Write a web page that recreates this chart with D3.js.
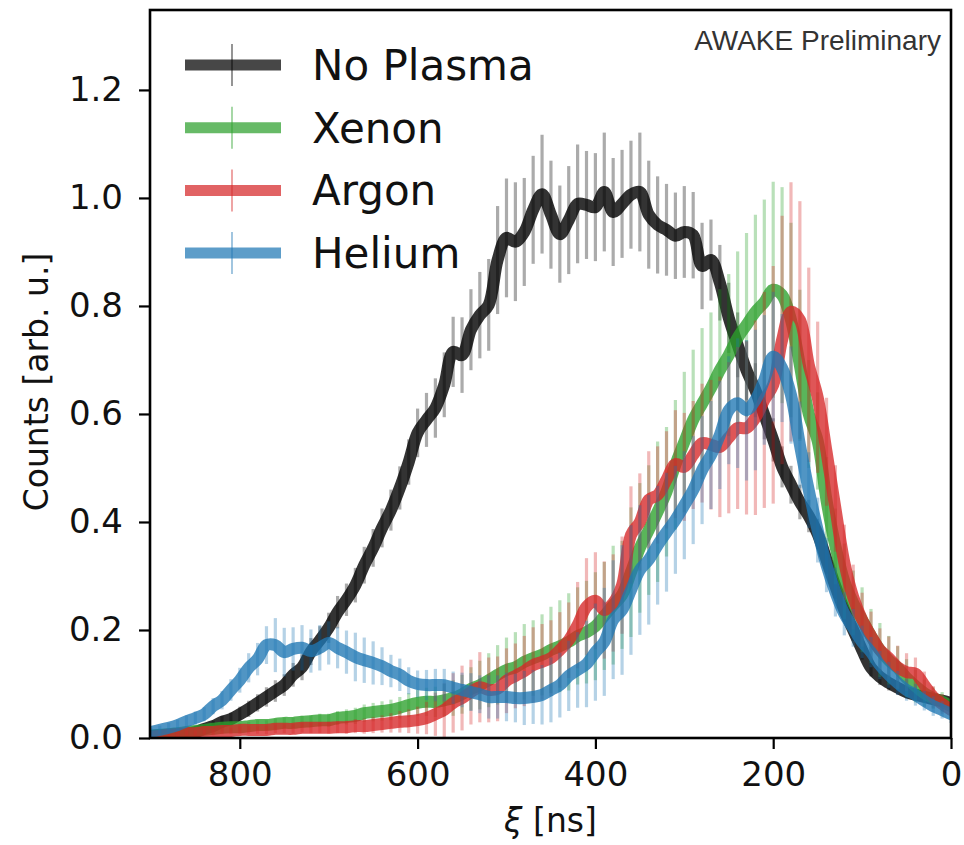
<!DOCTYPE html>
<html>
<head>
<meta charset="utf-8">
<script src="https://cdn.jsdelivr.net/npm/d3@7"></script>
<style>
  body { margin: 0; background: #fff; }
  text { font-family: "DejaVu Sans", sans-serif; }
</style>
</head>
<body>
<div id="chart-wrapper"></div>
<script>
const xiValues = [900, 890, 880, 870, 860, 850, 840, 830, 820, 810, 800,
  790, 780, 770, 760, 750, 740, 730, 720, 710, 700,
  690, 680, 670, 660, 650, 640, 630, 620, 610, 600,
  590, 580, 570, 560, 550, 540, 530, 520, 510, 500,
  490, 480, 470, 460, 450, 440, 430, 420, 410, 400,
  390, 380, 370, 360, 350, 340, 330, 320, 310, 300,
  290, 280, 270, 260, 250, 240, 230, 220, 210, 200,
  190, 180, 170, 160, 150, 140, 130, 120, 110, 100,
  90, 80, 70, 60, 50, 40, 30, 20, 10, 0]

const noPlasmaCounts = [0.004, 0.005, 0.006, 0.007, 0.008, 0.011, 0.017, 0.022, 0.030, 0.035, 0.044,
  0.054, 0.065, 0.076, 0.087, 0.098, 0.117, 0.131, 0.160, 0.181, 0.204,
  0.233, 0.256, 0.283, 0.320, 0.352, 0.389, 0.422, 0.463, 0.511, 0.565,
  0.589, 0.611, 0.654, 0.715, 0.709, 0.756, 0.783, 0.802, 0.885, 0.926,
  0.919, 0.937, 0.978, 1.007, 0.969, 0.933, 0.959, 0.989, 0.987, 0.983,
  1.011, 0.974, 0.989, 1.006, 1.011, 0.969, 0.950, 0.941, 0.930, 0.937,
  0.931, 0.874, 0.885, 0.843, 0.778, 0.728, 0.681, 0.644, 0.598, 0.552,
  0.502, 0.469, 0.437, 0.411, 0.378, 0.330, 0.281, 0.237, 0.200, 0.163,
  0.130, 0.113, 0.102, 0.093, 0.085, 0.080, 0.076, 0.072, 0.069, 0.065]
const noPlasmaErrors = [0.005, 0.005, 0.006, 0.006, 0.007, 0.008, 0.009, 0.010, 0.011, 0.012, 0.014,
  0.015, 0.016, 0.018, 0.020, 0.020, 0.022, 0.024, 0.025, 0.026, 0.028,
  0.030, 0.030, 0.032, 0.034, 0.035, 0.036, 0.038, 0.040, 0.042, 0.045,
  0.050, 0.055, 0.060, 0.065, 0.070, 0.075, 0.080, 0.085, 0.100, 0.110,
  0.110, 0.100, 0.100, 0.110, 0.100, 0.090, 0.100, 0.110, 0.100, 0.100,
  0.110, 0.100, 0.100, 0.100, 0.110, 0.100, 0.090, 0.085, 0.080, 0.085,
  0.080, 0.080, 0.075, 0.070, 0.065, 0.060, 0.055, 0.050, 0.045, 0.040,
  0.038, 0.035, 0.032, 0.030, 0.028, 0.026, 0.024, 0.022, 0.020, 0.018,
  0.016, 0.015, 0.014, 0.013, 0.012, 0.011, 0.010, 0.010, 0.009, 0.009]

const xenonCounts = [0.004, 0.006, 0.007, 0.009, 0.011, 0.013, 0.015, 0.017, 0.019, 0.020, 0.020,
  0.022, 0.024, 0.024, 0.026, 0.028, 0.028, 0.030, 0.031, 0.033, 0.033,
  0.037, 0.039, 0.041, 0.046, 0.048, 0.050, 0.052, 0.056, 0.061, 0.065,
  0.067, 0.067, 0.070, 0.074, 0.081, 0.091, 0.098, 0.107, 0.117, 0.126,
  0.131, 0.141, 0.148, 0.154, 0.163, 0.170, 0.178, 0.189, 0.196, 0.207,
  0.226, 0.246, 0.265, 0.307, 0.352, 0.385, 0.419, 0.456, 0.506, 0.548,
  0.589, 0.619, 0.648, 0.681, 0.709, 0.741, 0.765, 0.789, 0.807, 0.830,
  0.820, 0.774, 0.690, 0.600, 0.550, 0.440, 0.355, 0.290, 0.250, 0.219,
  0.189, 0.163, 0.144, 0.130, 0.111, 0.096, 0.083, 0.074, 0.067, 0.059]
const xenonErrors = [0.005, 0.005, 0.005, 0.006, 0.006, 0.006, 0.007, 0.007, 0.007, 0.008, 0.008,
  0.008, 0.009, 0.009, 0.010, 0.010, 0.010, 0.011, 0.011, 0.012, 0.012,
  0.013, 0.014, 0.015, 0.016, 0.017, 0.018, 0.019, 0.020, 0.022, 0.024,
  0.026, 0.028, 0.030, 0.033, 0.036, 0.040, 0.045, 0.050, 0.055, 0.060,
  0.065, 0.070, 0.070, 0.075, 0.080, 0.085, 0.090, 0.090, 0.095, 0.100,
  0.100, 0.110, 0.100, 0.120, 0.120, 0.120, 0.130, 0.120, 0.120, 0.130,
  0.130, 0.140, 0.140, 0.150, 0.150, 0.160, 0.170, 0.180, 0.190, 0.200,
  0.200, 0.180, 0.140, 0.100, 0.090, 0.080, 0.070, 0.070, 0.060, 0.060,
  0.050, 0.050, 0.045, 0.040, 0.035, 0.030, 0.025, 0.020, 0.018, 0.015]

const argonCounts = [0.002, 0.004, 0.006, 0.007, 0.009, 0.009, 0.011, 0.011, 0.013, 0.013, 0.015,
  0.015, 0.015, 0.015, 0.017, 0.017, 0.017, 0.019, 0.019, 0.019, 0.019,
  0.020, 0.020, 0.022, 0.022, 0.024, 0.026, 0.028, 0.030, 0.031, 0.033,
  0.037, 0.044, 0.052, 0.065, 0.074, 0.085, 0.094, 0.089, 0.091, 0.106,
  0.115, 0.124, 0.135, 0.141, 0.148, 0.163, 0.181, 0.209, 0.243, 0.254,
  0.237, 0.250, 0.283, 0.376, 0.400, 0.441, 0.450, 0.478, 0.507, 0.502,
  0.524, 0.546, 0.543, 0.539, 0.556, 0.574, 0.574, 0.593, 0.626, 0.654,
  0.737, 0.789, 0.774, 0.691, 0.631, 0.530, 0.425, 0.325, 0.261, 0.219,
  0.189, 0.163, 0.148, 0.131, 0.122, 0.119, 0.098, 0.076, 0.063, 0.052]
const argonErrors = [0.004, 0.004, 0.004, 0.005, 0.005, 0.005, 0.005, 0.006, 0.006, 0.006, 0.007,
  0.007, 0.007, 0.008, 0.008, 0.008, 0.009, 0.009, 0.010, 0.010, 0.011,
  0.011, 0.012, 0.013, 0.014, 0.015, 0.016, 0.018, 0.020, 0.022, 0.025,
  0.030, 0.040, 0.050, 0.055, 0.060, 0.060, 0.065, 0.060, 0.060, 0.060,
  0.060, 0.065, 0.070, 0.070, 0.070, 0.070, 0.070, 0.080, 0.090, 0.090,
  0.090, 0.090, 0.090, 0.090, 0.090, 0.090, 0.090, 0.090, 0.100, 0.100,
  0.100, 0.110, 0.120, 0.130, 0.140, 0.150, 0.160, 0.180, 0.200, 0.220,
  0.230, 0.240, 0.220, 0.180, 0.140, 0.100, 0.080, 0.070, 0.060, 0.050,
  0.045, 0.040, 0.040, 0.040, 0.035, 0.030, 0.025, 0.020, 0.018, 0.015]

const heliumCounts = [0.011, 0.015, 0.019, 0.024, 0.031, 0.037, 0.044, 0.059, 0.070, 0.089, 0.107,
  0.130, 0.146, 0.172, 0.172, 0.159, 0.165, 0.167, 0.161, 0.167, 0.176,
  0.167, 0.159, 0.150, 0.144, 0.139, 0.133, 0.124, 0.117, 0.106, 0.100,
  0.098, 0.098, 0.098, 0.093, 0.089, 0.085, 0.081, 0.076, 0.076, 0.076,
  0.074, 0.074, 0.076, 0.080, 0.089, 0.098, 0.115, 0.126, 0.137, 0.159,
  0.178, 0.219, 0.237, 0.274, 0.311, 0.330, 0.357, 0.381, 0.404, 0.431,
  0.459, 0.496, 0.524, 0.561, 0.607, 0.620, 0.607, 0.626, 0.663, 0.706,
  0.685, 0.635, 0.543, 0.459, 0.385, 0.320, 0.270, 0.230, 0.204, 0.178,
  0.159, 0.135, 0.117, 0.102, 0.089, 0.080, 0.069, 0.059, 0.052, 0.044]
const heliumErrors = [0.008, 0.008, 0.009, 0.010, 0.011, 0.012, 0.013, 0.015, 0.017, 0.020, 0.023,
  0.027, 0.030, 0.035, 0.050, 0.045, 0.040, 0.042, 0.040, 0.042, 0.040,
  0.038, 0.040, 0.045, 0.042, 0.040, 0.035, 0.030, 0.030, 0.025, 0.025,
  0.028, 0.030, 0.030, 0.030, 0.032, 0.035, 0.035, 0.040, 0.040, 0.045,
  0.045, 0.050, 0.050, 0.055, 0.060, 0.060, 0.065, 0.070, 0.080, 0.090,
  0.100, 0.110, 0.120, 0.120, 0.120, 0.120, 0.110, 0.110, 0.100, 0.100,
  0.100, 0.100, 0.100, 0.100, 0.100, 0.120, 0.130, 0.130, 0.120, 0.120,
  0.100, 0.090, 0.080, 0.070, 0.060, 0.050, 0.045, 0.040, 0.035, 0.030,
  0.028, 0.026, 0.024, 0.022, 0.020, 0.020, 0.018, 0.018, 0.016, 0.016]

const seriesNames = ["No Plasma", "Xenon", "Argon", "Helium"]
const seriesColors = ["#000000", "#2ca02c", "#d62728", "#1f77b4"]
const yTickValues = [0, 0.2, 0.4, 0.6, 0.8, 1.0, 1.2]
const xTickValues = [800, 600, 400, 200, 0]

function drawChart() {

  const countsBySeries = [noPlasmaCounts, xenonCounts, argonCounts, heliumCounts]
  const errorsBySeries = [noPlasmaErrors, xenonErrors, argonErrors, heliumErrors]

  const series = seriesNames.map((name, i) => ({
    name: name,
    color: seriesColors[i],
    points: xiValues.map((xi, j) => ({
      xi: xi,
      counts: countsBySeries[i][j],
      err: errorsBySeries[i][j],
    })),
  }))

  const xi = d => d.xi
  const counts = d => d.counts

  let dimensions = {
    width: 964,
    height: 845,
    margin: {
      top: 10,
      right: 13,
      bottom: 107,
      left: 150,
    },
  }
  dimensions.boundedWidth = dimensions.width
    - dimensions.margin.left
    - dimensions.margin.right
  dimensions.boundedHeight = dimensions.height
    - dimensions.margin.top
    - dimensions.margin.bottom

  const xScale = d3.scaleLinear()
      .domain([901, 0])
      .range([0, dimensions.boundedWidth])

  const yScale = d3.scaleLinear()
      .domain([0, 1.348])
      .range([dimensions.boundedHeight, 0])

  const lineGenerator = d3.line()
      .x(d => xScale(xi(d)))
      .y(d => yScale(counts(d)))
      .curve(d3.curveCatmullRom.alpha(0.5))

  const wrapper = d3.select("#chart-wrapper")
    .append("svg")
      .attr("width", dimensions.width)
      .attr("height", dimensions.height)

  const bounds = wrapper.append("g")
      .attr("transform", `translate(${dimensions.margin.left}, ${dimensions.margin.top})`)

  bounds.append("clipPath")
      .attr("id", "plot-clip")
    .append("rect")
      .attr("width", dimensions.boundedWidth)
      .attr("height", dimensions.boundedHeight)

  const plot = bounds.append("g")
      .attr("clip-path", "url(#plot-clip)")

  // error bars, then the mean line, for each series in turn
  series.forEach(s => {
    plot.append("g")
      .selectAll("line")
      .data(s.points)
      .join("line")
        .attr("x1", d => xScale(xi(d)))
        .attr("x2", d => xScale(xi(d)))
        .attr("y1", d => yScale(d.counts - d.err))
        .attr("y2", d => yScale(d.counts + d.err))
        .attr("stroke", s.color)
        .attr("stroke-opacity", 0.33)
        .attr("stroke-width", 3.2)

    plot.append("path")
        .attr("d", lineGenerator(s.points))
        .attr("fill", "none")
        .attr("stroke", s.color)
        .attr("stroke-opacity", s.name == "No Plasma" ? 0.8 : 0.78)
        .attr("stroke-width", 12)
        .attr("stroke-linejoin", "round")
        .attr("stroke-linecap", "round")
  })

  // Draw axis

  const yAxisGenerator = d3.axisLeft()
    .scale(yScale)
    .tickValues(yTickValues)
    .tickFormat(d3.format(".1f"))
    .tickSizeOuter(0)
    .tickSize(11)
    .tickPadding(16)

  const yAxis = bounds.append("g")
    .call(yAxisGenerator)

  const xAxisGenerator = d3.axisBottom()
    .scale(xScale)
    .tickValues(xTickValues)
    .tickFormat(d3.format("d"))
    .tickSizeOuter(0)
    .tickSize(11)
    .tickPadding(13)

  const xAxis = bounds.append("g")
    .call(xAxisGenerator)
      .attr("transform", `translate(0, ${dimensions.boundedHeight})`)

  bounds.selectAll(".domain").remove()
  bounds.selectAll(".tick line")
      .attr("stroke", "#000")
      .attr("stroke-width", 2.2)
  bounds.selectAll(".tick text")
      .attr("fill", "#111")
      .style("font-family", "DejaVu Sans")
      .style("font-size", "34px")

  bounds.append("rect")
      .attr("width", dimensions.boundedWidth)
      .attr("height", dimensions.boundedHeight)
      .attr("fill", "none")
      .attr("stroke", "#000")
      .attr("stroke-width", 2.6)

  wrapper.append("text")
      .attr("transform", "translate(48, 382) rotate(-90)")
      .attr("text-anchor", "middle")
      .attr("fill", "#111")
      .style("font-size", "33px")
      .text("Counts [arb. u.]")

  const xLabel = wrapper.append("text")
      .attr("x", dimensions.margin.left + dimensions.boundedWidth / 2)
      .attr("y", 832)
      .attr("text-anchor", "middle")
      .attr("fill", "#111")
      .style("font-size", "33px")
  xLabel.append("tspan")
      .style("font-style", "italic")
      .text("ξ")
  xLabel.append("tspan")
      .text(" [ns]")

  wrapper.append("text")
      .attr("x", 941)
      .attr("y", 50)
      .attr("text-anchor", "end")
      .attr("fill", "#333")
      .style("font-family", "Liberation Sans, Arial, sans-serif")
      .style("font-size", "28px")
      .text("AWAKE Preliminary")

  // legend
  const legend = wrapper.append("g")
      .attr("transform", "translate(185, 65)")

  const legendItems = legend.selectAll("g")
    .data(series)
    .join("g")
      .attr("transform", (d, i) => `translate(0, ${i * 62.7})`)

  legendItems.append("line")
      .attr("x1", 0)
      .attr("x2", 96)
      .attr("stroke", d => d.color)
      .attr("stroke-opacity", 0.72)
      .attr("stroke-width", 11)

  legendItems.append("line")
      .attr("x1", 47)
      .attr("x2", 47)
      .attr("y1", -21)
      .attr("y2", 21)
      .attr("stroke", d => d.color)
      .attr("stroke-opacity", 0.6)
      .attr("stroke-width", 1.4)

  legendItems.append("text")
      .attr("x", 127)
      .attr("y", 15)
      .attr("fill", "#111")
      .style("font-size", "42px")
      .text(d => d.name)
}

drawChart()
</script>
</body>
</html>
